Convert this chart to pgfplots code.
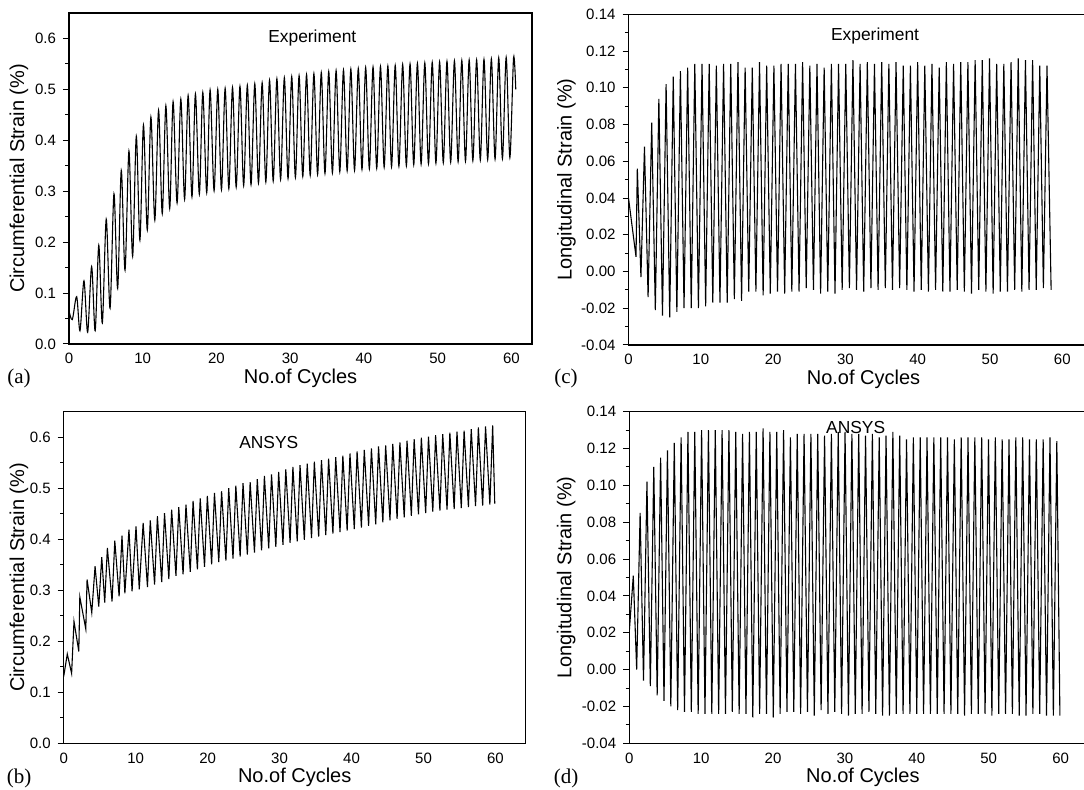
\documentclass[border=0pt]{standalone}
\usepackage{fontspec}
\setmainfont{Liberation Sans}
\newfontfamily\timesfont{Liberation Serif}
\usepackage{pgfplots}
\pgfplotsset{compat=1.18}
\usepackage{pgfplotstable}

\pgfplotstableread{
x y
0 0.065
0.45 0.048
1.04 0.093
1.49 0.026
2.03 0.124
2.53 0.023
3.07 0.152
3.55 0.026
4.04 0.194
4.52 0.041
5.05 0.245
5.57 0.070
6.10 0.295
6.60 0.109
7.09 0.341
7.60 0.145
8.13 0.379
8.63 0.172
9.13 0.408
9.62 0.204
10.10 0.430
10.62 0.224
11.11 0.446
11.64 0.243
12.15 0.459
12.65 0.256
13.14 0.468
13.66 0.266
14.12 0.476
14.66 0.277
15.17 0.481
15.68 0.284
16.16 0.488
16.68 0.289
17.15 0.491
17.68 0.294
18.15 0.494
18.68 0.297
19.14 0.499
19.68 0.301
20.18 0.500
20.68 0.303
21.18 0.502
21.68 0.305
22.18 0.504
22.68 0.308
23.19 0.506
23.69 0.311
24.19 0.508
24.69 0.313
25.20 0.511
25.70 0.316
26.20 0.513
26.70 0.318
27.20 0.518
27.70 0.320
28.20 0.521
28.70 0.323
29.21 0.523
29.71 0.325
30.21 0.525
30.71 0.327
31.21 0.527
31.71 0.329
32.22 0.529
32.72 0.331
33.22 0.531
33.72 0.333
34.22 0.533
34.72 0.335
35.23 0.535
35.73 0.336
36.23 0.537
36.73 0.338
37.23 0.538
37.73 0.340
38.23 0.540
38.73 0.341
39.24 0.541
39.74 0.343
40.24 0.543
40.74 0.344
41.24 0.544
41.74 0.345
42.25 0.545
42.75 0.347
43.25 0.546
43.75 0.348
44.25 0.547
44.75 0.349
45.26 0.549
45.76 0.350
46.26 0.550
46.76 0.352
47.26 0.551
47.76 0.353
48.26 0.552
48.76 0.354
49.27 0.553
49.77 0.355
50.27 0.554
50.77 0.356
51.27 0.555
51.77 0.357
52.28 0.556
52.78 0.358
53.28 0.557
53.78 0.359
54.28 0.558
54.78 0.360
55.29 0.558
55.79 0.361
56.29 0.559
56.79 0.362
57.29 0.560
57.79 0.363
58.29 0.562
58.79 0.364
59.30 0.563
59.80 0.366
60.30 0.562
60.60 0.500
}\dataA

\pgfplotstableread{
x y
0 0.040
1.04 0.008
1.22 0.056
1.72 -0.003
2.21 0.068
2.71 -0.014
3.21 0.081
3.71 -0.021
4.20 0.094
4.70 -0.024
5.20 0.102
5.70 -0.025
6.19 0.106
6.69 -0.022
7.18 0.109
7.68 -0.020
8.18 0.111
8.68 -0.020
9.17 0.113
9.67 -0.020
10.17 0.113
10.67 -0.019
11.16 0.113
11.66 -0.017
12.15 0.112
12.65 -0.017
13.15 0.113
13.65 -0.017
14.14 0.113
14.64 -0.015
15.14 0.114
15.64 -0.016
16.13 0.111
16.63 -0.011
17.12 0.111
17.62 -0.011
18.12 0.114
18.62 -0.013
19.11 0.112
19.61 -0.012
20.11 0.112
20.61 -0.011
21.10 0.113
21.60 -0.012
22.09 0.113
22.59 -0.011
23.09 0.113
23.59 -0.011
24.08 0.114
24.58 -0.009
25.08 0.112
25.58 -0.010
26.07 0.113
26.57 -0.012
27.06 0.111
27.56 -0.011
28.06 0.113
28.56 -0.012
29.05 0.113
29.55 -0.010
30.05 0.113
30.55 -0.009
31.04 0.115
31.54 -0.010
32.03 0.113
32.53 -0.011
33.03 0.114
33.53 -0.009
34.02 0.113
34.52 -0.010
35.02 0.114
35.52 -0.009
36.01 0.113
36.51 -0.010
37.00 0.114
37.50 -0.009
38.00 0.112
38.50 -0.010
38.99 0.112
39.49 -0.011
39.99 0.114
40.49 -0.010
40.98 0.112
41.48 -0.011
41.97 0.113
42.47 -0.010
42.97 0.111
43.47 -0.011
43.96 0.114
44.46 -0.011
44.96 0.113
45.46 -0.010
45.95 0.114
46.45 -0.011
46.94 0.114
47.44 -0.012
47.94 0.115
48.44 -0.010
48.93 0.115
49.43 -0.011
49.93 0.116
50.43 -0.012
50.92 0.113
51.42 -0.011
51.91 0.113
52.41 -0.011
52.91 0.114
53.41 -0.010
53.90 0.116
54.40 -0.011
54.90 0.115
55.40 -0.010
55.89 0.115
56.39 -0.010
56.88 0.112
57.38 -0.009
57.88 0.112
58.45 -0.010
}\dataC

\pgfplotstableread{
x y
0 0.131
0.50 0.175
1.10 0.137
1.43 0.239
2.10 0.180
2.24 0.287
3.07 0.224
3.25 0.321
3.90 0.256
4.36 0.347
4.87 0.268
5.29 0.365
5.70 0.276
6.07 0.383
6.72 0.278
7.10 0.397
7.70 0.288
8.10 0.407
8.50 0.294
9.07 0.419
9.50 0.298
10.05 0.425
10.50 0.302
11.04 0.432
11.64 0.306
12.03 0.437
12.63 0.311
13.02 0.445
13.62 0.316
14.01 0.451
14.61 0.322
15.00 0.458
15.60 0.328
15.99 0.463
16.59 0.331
16.99 0.468
17.59 0.336
17.98 0.475
18.58 0.341
18.97 0.480
19.57 0.346
19.96 0.485
20.56 0.351
20.95 0.491
21.55 0.355
21.94 0.494
22.54 0.358
22.93 0.500
23.53 0.362
23.92 0.505
24.52 0.366
24.92 0.510
25.52 0.370
25.91 0.512
26.51 0.374
26.90 0.518
27.50 0.378
27.89 0.524
28.49 0.382
28.88 0.527
29.48 0.385
29.87 0.532
30.47 0.389
30.86 0.537
31.46 0.393
31.85 0.542
32.45 0.396
32.84 0.545
33.44 0.399
33.84 0.548
34.44 0.402
34.83 0.552
35.43 0.405
35.82 0.555
36.42 0.408
36.81 0.558
37.41 0.411
37.80 0.561
38.40 0.414
38.79 0.564
39.39 0.417
39.78 0.568
40.38 0.420
40.77 0.572
41.37 0.423
41.77 0.575
42.37 0.426
42.76 0.578
43.36 0.429
43.75 0.582
44.35 0.433
44.74 0.584
45.34 0.437
45.73 0.587
46.33 0.440
46.72 0.590
47.32 0.443
47.71 0.593
48.31 0.446
48.70 0.596
49.30 0.449
49.70 0.599
50.30 0.451
50.69 0.601
51.29 0.454
51.68 0.604
52.28 0.456
52.67 0.606
53.27 0.458
53.66 0.609
54.26 0.459
54.65 0.611
55.25 0.461
55.64 0.613
56.24 0.463
56.63 0.616
57.23 0.465
57.62 0.619
58.22 0.466
58.62 0.621
59.22 0.468
59.61 0.623
59.90 0.470
}\dataB

\pgfplotstableread{
x y
0 0.020
0.57 0.051
1.04 0.000
1.52 0.085
1.99 -0.006
2.47 0.102
2.94 -0.009
3.42 0.110
3.89 -0.014
4.37 0.115
4.84 -0.017
5.32 0.119
5.79 -0.020
6.27 0.123
6.74 -0.022
7.22 0.126
7.69 -0.023
8.17 0.129
8.64 -0.023
9.12 0.129
9.59 -0.024
10.07 0.130
10.54 -0.024
11.02 0.130
11.49 -0.024
11.97 0.130
12.44 -0.024
12.92 0.130
13.39 -0.024
13.87 0.130
14.34 -0.023
14.82 0.129
15.29 -0.024
15.77 0.128
16.24 -0.024
16.72 0.129
17.19 -0.026
17.67 0.129
18.14 -0.024
18.62 0.131
19.09 -0.024
19.57 0.129
20.04 -0.026
20.52 0.129
20.99 -0.024
21.47 0.130
21.94 -0.023
22.42 0.126
22.89 -0.023
23.37 0.128
23.84 -0.024
24.32 0.128
24.79 -0.023
25.27 0.128
25.74 -0.025
26.22 0.128
26.69 -0.022
27.17 0.127
27.64 -0.024
28.12 0.128
28.59 -0.023
29.07 0.129
29.54 -0.024
30.02 0.129
30.49 -0.025
30.97 0.128
31.44 -0.024
31.92 0.128
32.39 -0.024
32.87 0.127
33.34 -0.023
33.82 0.128
34.29 -0.024
34.77 0.126
35.24 -0.025
35.72 0.127
36.19 -0.025
36.67 0.129
37.14 -0.024
37.62 0.127
38.09 -0.024
38.57 0.125
39.04 -0.024
39.52 0.126
39.99 -0.024
40.47 0.126
40.94 -0.024
41.42 0.126
41.89 -0.024
42.37 0.126
42.84 -0.024
43.32 0.126
43.79 -0.024
44.27 0.126
44.74 -0.024
45.22 0.125
45.69 -0.024
46.17 0.126
46.64 -0.025
47.12 0.126
47.59 -0.024
48.07 0.126
48.54 -0.024
49.02 0.126
49.49 -0.024
49.97 0.125
50.44 -0.025
50.92 0.126
51.39 -0.024
51.87 0.125
52.34 -0.024
52.82 0.125
53.29 -0.024
53.77 0.126
54.24 -0.025
54.72 0.126
55.19 -0.025
55.67 0.125
56.14 -0.024
56.62 0.125
57.09 -0.024
57.57 0.125
58.04 -0.025
58.52 0.126
58.99 -0.025
59.47 0.124
59.90 -0.025
}\dataD

\pgfplotsset{
  panel/.style={
    scale only axis,
    anchor=south west,
    axis line style={line width=0.7pt},
    tick align=outside,
    xtick={0,10,20,30,40,50,60},
    xtick pos=bottom,
    ytick pos=left,
    xtick style={draw=none},
    minor y tick num=1,
    major tick length=3pt,
    minor tick length=1.8pt,
    tick style={line width=0.5pt, black},
    /pgf/number format/assume math mode=true,
    ticklabel style={font=\fontsize{7.5}{9}\selectfont},
    xticklabel style={yshift=1.8pt},
    label style={font=\fontsize{10}{12}\selectfont},
    xlabel={No.of Cycles},
    xlabel style={at={(axis description cs:0.5,0)}, anchor=center, yshift=-17pt},
  },
  circ/.style={
    ymin=0, ymax=0.65,
    ytick={0,0.1,0.2,0.3,0.4,0.5,0.6},
    yticklabel style={/pgf/number format/.cd, fixed, fixed zerofill, precision=1},
    ylabel={Circumferential Strain (\%)},
  },
  longi/.style={
    ymin=-0.04, ymax=0.14,
    ytick={-0.04,-0.02,0,0.02,0.04,0.06,0.08,0.10,0.12,0.14},
    yticklabel style={/pgf/number format/.cd, fixed, fixed zerofill, precision=2},
    ylabel={Longitudinal Strain (\%)},
  },
  dataline/.style={black, mark=none, line width=0.55pt},
}

\begin{document}
\begin{tikzpicture}[x=1pt,y=1pt]
% (a)
\begin{axis}[panel, circ, at={(34.5pt,223pt)}, width=231.5pt, height=165.5pt,
  xmin=0, xmax=62.8,
  ylabel style={at={(axis description cs:-0.108,0.5)}, anchor=center}]
\addplot[dataline, smooth, tension=0.5] table[x=x,y=y] {\dataA};
\node[font=\fontsize{8.7}{10}\selectfont] at (axis cs:33,0.6) {Experiment};
\end{axis}
% (c)
\begin{axis}[panel, longi, at={(314.25pt,222.5pt)}, width=235pt, height=165.35pt,
  xmin=0, xmax=65,
  ylabel style={at={(axis description cs:-0.132,0.5)}, anchor=center}]
\addplot[dataline] table[x=x,y=y] {\dataC};
\node[font=\fontsize{8.7}{10}\selectfont] at (axis cs:34.1,0.1282) {Experiment};
\end{axis}
% (b)
\begin{axis}[panel, circ, at={(31.85pt,23.35pt)}, width=231pt, height=165.8pt,
  xmin=0, xmax=64.2,
  ylabel style={at={(axis description cs:-0.097,0.5)}, anchor=center}]
\addplot[dataline] table[x=x,y=y] {\dataB};
\node[font=\fontsize{8.7}{10}\selectfont] at (axis cs:28.5,0.59) {ANSYS};
\end{axis}
% (d)
\begin{axis}[panel, longi, at={(314.6pt,23.35pt)}, width=233.7pt, height=165.8pt,
  xmin=0, xmax=65,
  ylabel style={at={(axis description cs:-0.135,0.5)}, anchor=center}]
\addplot[dataline] table[x=x,y=y] {\dataD};
\node[font=\fontsize{8.7}{10}\selectfont] at (axis cs:31.5,0.1315) {ANSYS};
\end{axis}
\node[font=\timesfont\fontsize{10.5}{12}\selectfont] at (9.5,206) {(a)};
\node[font=\timesfont\fontsize{10.5}{12}\selectfont] at (283,206) {(c)};
\node[font=\timesfont\fontsize{10.5}{12}\selectfont] at (9.5,6) {(b)};
\node[font=\timesfont\fontsize{10.5}{12}\selectfont] at (283,6) {(d)};
\pgfresetboundingbox
\path[use as bounding box] (0,0) rectangle (542,395);
\end{tikzpicture}
\end{document}
